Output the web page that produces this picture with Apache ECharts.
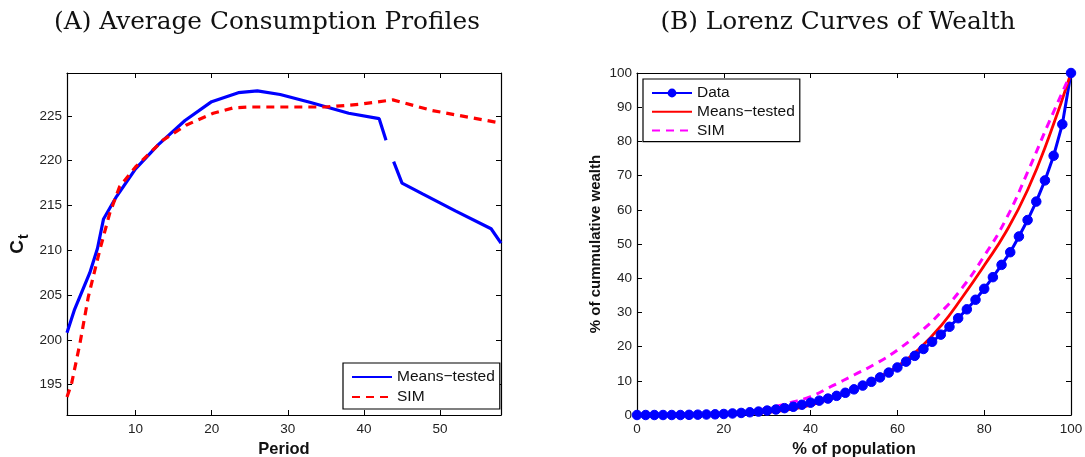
<!DOCTYPE html>
<html><head><meta charset="utf-8">
<script src="https://cdn.jsdelivr.net/npm/echarts@6/dist/echarts.min.js"></script>
<style>html,body{margin:0;padding:0;background:#fff}#c{width:1085px;height:457px}</style>
</head><body><div id="c"></div>
<script>
// ---- Panel A data ----
const titleA = '(A) Average Consumption Profiles';
const titleB = '(B) Lorenz Curves of Wealth';
const mtPeriods = [1, 2, 4, 5, 5.8, 7.5, 10, 13, 16.5, 20, 23.5, 26, 29, 33, 38, 42, 42.9, null, 43.9, 45, 47.7, 52, 56.7, 58];
const mtValues  = [200.8, 203.4, 207.5, 210.2, 213.5, 216.0, 219.1, 221.8, 224.5, 226.6, 227.6, 227.8, 227.4, 226.5, 225.3, 224.7, 222.3, null, 219.9, 217.5, 216.3, 214.4, 212.4, 210.8];
const simPeriods = [1, 1.6, 2.7, 3.8, 5.3, 6.6, 7.9, 10, 13.6, 16.7, 20.2, 22.8, 25, 35, 39.4, 43.8, 49, 58];
const simValues  = [193.6, 195.1, 199.6, 204.8, 210.0, 214.1, 217.1, 219.3, 222.3, 224.0, 225.3, 225.9, 226.0, 226.0, 226.3, 226.8, 225.6, 224.2];
const periodTicks = [10, 20, 30, 40, 50];
const consTicks = [195, 200, 205, 210, 215, 220, 225];

// ---- Panel B data ----
const popData = [0,2,4,6,8,10,12,14,16,18,20,22,24,26,28,30,32,34,36,38,40,42,44,46,48,50,52,54,56,58,60,62,64,66,68,70,72,74,76,78,80,82,84,86,88,90,92,94,96,98,100];
const wealthData = [0,0,0,0,0,0,0.05,0.1,0.15,0.2,0.3,0.45,0.6,0.8,1.0,1.3,1.6,2.0,2.4,3.0,3.6,4.2,4.8,5.6,6.5,7.5,8.6,9.7,11.0,12.4,13.9,15.6,17.3,19.3,21.4,23.5,25.8,28.3,30.9,33.7,36.9,40.3,43.9,47.6,52.2,57.0,62.4,68.6,75.8,85.0,100];
const popModel = [0,5,10,15,20,25,30,35,40,45,50,55,60,65,70,75,80,85,90,95,100];
const wealthMeans = [0,0,0,0.05,0.15,0.4,0.8,1.6,2.9,5.0,7.5,10.6,14.2,19.3,26.0,34.5,43.7,53.5,65.8,81.6,100];
const wealthSim = [0,0,0,0.1,0.3,0.9,2.0,3.5,5.4,8.5,11.7,15.0,19.0,24.0,30.0,37.3,46.5,57.2,71.0,85.8,100];
const popTicks = [0, 20, 40, 60, 80, 100];
const wealthTicks = [0,10,20,30,40,50,60,70,80,90,100];

const zip = (xs, ys) => xs.map((x, i) => (x === null || ys[i] === null) ? '-' : [x, ys[i]]);

const SANS = 'Liberation Sans, Arial, Helvetica, sans-serif';
const labelStyle = { fontFamily: SANS, fontSize: 13.5, color: '#222' };
const axLine = { show: true, onZero: false, lineStyle: { color: '#000', width: 1.2 } };

function axis(kind, grid, pos, min, max, ticks, showLabel, extra) {
  return Object.assign({
    type: 'value', gridIndex: grid, position: pos, min: min, max: max,
    axisLine: axLine,
    axisTick: { show: true, inside: true, length: 5, customValues: ticks, lineStyle: { color: '#000', width: 1 } },
    axisLabel: Object.assign({ show: showLabel, customValues: ticks, margin: kind === 'x' ? 7 : 5 }, labelStyle),
    splitLine: { show: false }
  }, extra || {});
}

const nameStyle = { fontFamily: SANS, fontSize: 16.5, fontWeight: 'bold', color: '#111' };
const titleStyle = { fontFamily: 'DejaVu Serif', fontWeight: 'normal', fontSize: 24.8, color: '#111' };
const noSym = { opacity: 0 };

const option = {
  animation: false,
  backgroundColor: '#fff',
  title: [
    { text: titleA, left: 262, top: 5, textAlign: 'center', textStyle: titleStyle },
    { text: titleB, left: 833, top: 5, textAlign: 'center', textStyle: titleStyle }
  ],
  grid: [
    { left: 67, top: 73, width: 434, height: 342, outerBoundsMode: 'none', containLabel: false },
    { left: 637, top: 73, width: 434, height: 342, outerBoundsMode: 'none', containLabel: false }
  ],
  xAxis: [
    axis('x', 0, 'bottom', 1, 58, periodTicks, true, { name: 'Period', nameLocation: 'middle', nameGap: 20, nameTextStyle: nameStyle }),
    axis('x', 0, 'top', 1, 58, periodTicks, false),
    axis('x', 1, 'bottom', 0, 100, popTicks, true, { name: '% of population', nameLocation: 'middle', nameGap: 20, nameTextStyle: nameStyle }),
    axis('x', 1, 'top', 0, 100, popTicks, false)
  ],
  yAxis: [
    axis('y', 0, 'left', 191.6, 229.8, consTicks, true, {
      name: '{c|C}{t|t}', nameLocation: 'middle', nameGap: 36,
      nameTextStyle: { rich: {
        c: { fontFamily: SANS, fontSize: 19, fontWeight: 'bold', color: '#111' },
        t: { fontFamily: SANS, fontSize: 14, fontWeight: 'bold', color: '#111', padding: [12, 0, 0, 1] }
      } }
    }),
    axis('y', 0, 'right', 191.6, 229.8, consTicks, false),
    axis('y', 1, 'left', 0, 100, wealthTicks, true, { name: '% of cummulative wealth', nameLocation: 'middle', nameGap: 34, nameTextStyle: Object.assign({}, nameStyle, { fontSize: 15 }) }),
    axis('y', 1, 'right', 0, 100, wealthTicks, false)
  ],
  legend: [
    { data: [{ name: 'Means−tested', itemStyle: noSym }, { name: 'SIM', itemStyle: noSym }],
      orient: 'vertical', left: 343, top: 363,
      itemWidth: 40, itemHeight: 11, itemGap: 4, padding: [6, 5, 4, 8],
      borderColor: '#000', borderWidth: 1.2, backgroundColor: '#fff', selectedMode: false,
      textStyle: { fontFamily: SANS, fontSize: 15.5, color: '#111' } },
    { data: ['Data', { name: 'Means−tested (B)', itemStyle: noSym }, { name: 'SIM (B)', itemStyle: noSym }],
      orient: 'vertical', left: 643, top: 79,
      itemWidth: 40, itemHeight: 11, itemGap: 2.8, padding: [6, 5, 3, 8],
      borderColor: '#000', borderWidth: 1.2, backgroundColor: '#fff', selectedMode: false,
      formatter: n => n.replace(' (B)', ''),
      textStyle: { fontFamily: SANS, fontSize: 15.5, color: '#111' } }
  ],
  series: [
    { name: 'Means−tested', type: 'line', xAxisIndex: 0, yAxisIndex: 0, symbol: 'none',
      data: zip(mtPeriods, mtValues), connectNulls: false,
      lineStyle: { color: '#0000ff', width: 3.2 }, itemStyle: { color: '#0000ff' } },
    { name: 'SIM', type: 'line', xAxisIndex: 0, yAxisIndex: 0, symbol: 'none',
      data: zip(simPeriods, simValues),
      lineStyle: { color: '#ff0000', width: 3.2, type: [8, 6] }, itemStyle: { color: '#ff0000' } },
    { name: 'Data', type: 'line', xAxisIndex: 2, yAxisIndex: 2, symbol: 'circle', symbolSize: 9.5,
      data: zip(popData, wealthData),
      lineStyle: { color: '#0000ff', width: 3 }, itemStyle: { color: '#0000ff', borderColor: '#0000ff' } },
    { name: 'Means−tested (B)', type: 'line', xAxisIndex: 2, yAxisIndex: 2, symbol: 'none',
      smooth: 0.5,
      data: zip(popModel, wealthMeans),
      lineStyle: { color: '#ff0000', width: 2.8 }, itemStyle: { color: '#ff0000' } },
    { name: 'SIM (B)', type: 'line', xAxisIndex: 2, yAxisIndex: 2, symbol: 'none',
      smooth: 0.5,
      data: zip(popModel, wealthSim),
      lineStyle: { color: '#ff00ff', width: 3, type: [8, 6] }, itemStyle: { color: '#ff00ff' } }
  ]
};
const chart = echarts.init(document.getElementById('c'), null, { renderer: 'canvas' });
chart.setOption(option);
</script>
</body></html>
